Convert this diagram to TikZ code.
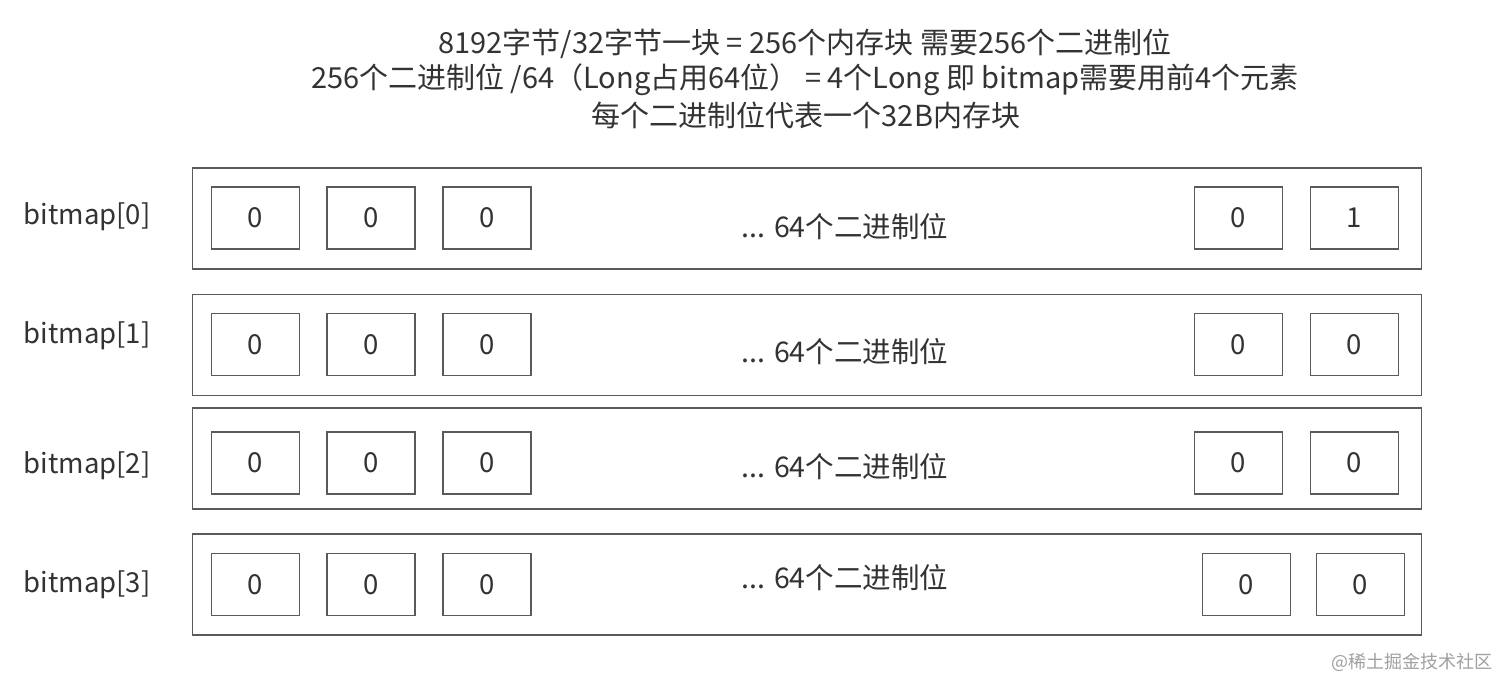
\documentclass[tikz,border=0pt]{standalone}
\usepackage{fontspec}
\setmainfont{Noto Sans CJK SC}
\definecolor{txt}{HTML}{333333}
\definecolor{edge}{HTML}{5A5A5A}
\definecolor{wm}{HTML}{A0A0A0}
\begin{document}
\begin{tikzpicture}[x=1pt,y=-1pt,
  every node/.style={text=txt,font=\fontsize{27.5}{32}\selectfont,inner sep=0pt},
  title/.style={font=\fontsize{29}{34}\selectfont},
  rowbox/.style={draw=edge,line width=1.8pt,minimum width=1229pt,minimum height=101pt},
  bitbox/.style={draw=edge,line width=1.8pt,minimum width=88pt,minimum height=62pt},
  midtext/.style={font=\fontsize{28.5}{33}\selectfont}]
\useasboundingbox (0,0) rectangle (1512,692);
\fill[white] (0,0) rectangle (1512,692);
\node[title] (t1) at (805,44) {8192字节/32字节一块 = 256个内存块 需要256个二进制位};
\node[title] (t2) at (805,80) {256个二进制位 /64（Long占用64位） = 4个Long 即 bitmap需要用前4个元素};
\node[title] (t3) at (806,115) {每个二进制位代表一个32B内存块};
% rows: index / outer centre y / inner centre y / label y / text y / right box x1 / right box x2 / last bit
\foreach \i/\oy/\iy/\ly/\ty/\ra/\rb/\v in {0/218.5/218/217/227/1238.5/1354.5/1,
                                           1/345/344.5/336/352/1238.5/1354.5/0,
                                           2/458.5/463/466/467/1238.5/1354.5/0,
                                           3/584.5/584.5/585/578/1246.5/1360.5/0}{
  \node[rowbox] (row\i) at (807,\oy) {};
  \node (lab\i) at (87,\ly) {bitmap[\i]};
  \node[bitbox] (b\i a) at (255.5,\iy) {0};
  \node[bitbox] (b\i b) at (371,\iy) {0};
  \node[bitbox] (b\i c) at (487,\iy) {0};
  \node[midtext] (dots\i) at (845,\ty) {... 64个二进制位};
  \node[bitbox] (b\i y) at (\ra,\iy) {0};
  \node[bitbox] (b\i z) at (\rb,\iy) {\v};
}
\node[text=wm,font=\fontsize{18}{22}\selectfont] (wmk) at (1412,662) {@稀土掘金技术社区};
\end{tikzpicture}
\end{document}
